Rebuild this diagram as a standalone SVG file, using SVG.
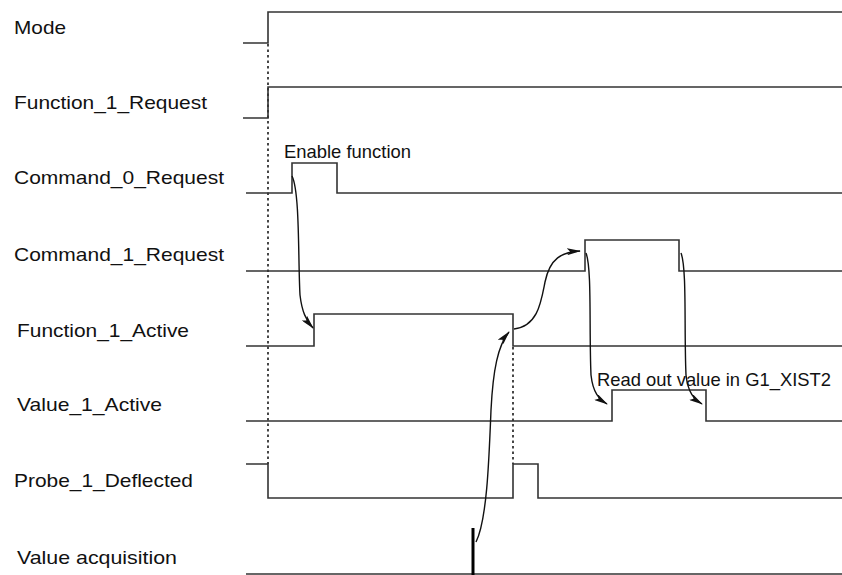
<svg xmlns="http://www.w3.org/2000/svg" width="842" height="575" viewBox="0 0 842 575">
<style>
  .lbl { font-family: "Liberation Sans", Arial, sans-serif; font-size: 19px; fill: #111; }
  .sig { fill: none; stroke: #333; stroke-width: 1.6; }
  .dot { fill: none; stroke: #333; stroke-width: 1.8; stroke-dasharray: 2.5 3; }
  .arr { fill: none; stroke: #111; stroke-width: 1.4; marker-end: url(#ah); }
</style>
<defs>
  <marker id="ah" viewBox="0 0 14 7" refX="13" refY="3.5" markerWidth="14" markerHeight="7" markerUnits="userSpaceOnUse" orient="auto">
    <path d="M0,0 L14,3.5 L0,7 L3,3.5 Z" fill="#111"/>
  </marker>
</defs>
<rect width="842" height="575" fill="#fff"/>

<g id="mode">
  <text class="lbl" x="14" y="34" textLength="52" lengthAdjust="spacingAndGlyphs">Mode</text>
  <path class="sig" d="M243,43 H268 V12 H842"/>
</g>
<g id="function_1_request">
  <text class="lbl" x="14" y="109" textLength="193" lengthAdjust="spacingAndGlyphs">Function_1_Request</text>
  <path class="sig" d="M243,118 H268 V87 H842"/>
</g>
<g id="command_0_request">
  <text class="lbl" x="14" y="184" textLength="210" lengthAdjust="spacingAndGlyphs">Command_0_Request</text>
  <path class="sig" d="M246,193 H292 V163 H337 V193 H842"/>
  <text class="lbl" x="284" y="158" textLength="127" lengthAdjust="spacingAndGlyphs">Enable function</text>
</g>
<g id="command_1_request">
  <text class="lbl" x="14" y="261" textLength="210" lengthAdjust="spacingAndGlyphs">Command_1_Request</text>
  <path class="sig" d="M246,271 H585 V240 H679 V271 H842"/>
</g>
<g id="function_1_active">
  <text class="lbl" x="17" y="337" textLength="172" lengthAdjust="spacingAndGlyphs">Function_1_Active</text>
  <path class="sig" d="M246,346 H314 V314 H513 V346 H842"/>
</g>
<g id="value_1_active">
  <text class="lbl" x="17" y="411" textLength="145" lengthAdjust="spacingAndGlyphs">Value_1_Active</text>
  <path class="sig" d="M246,421 H612 V390 H706 V421 H842"/>
  <text class="lbl" x="597" y="386" textLength="234" lengthAdjust="spacingAndGlyphs">Read out value in G1_XIST2</text>
</g>
<g id="probe_1_deflected">
  <text class="lbl" x="14" y="487" textLength="179" lengthAdjust="spacingAndGlyphs">Probe_1_Deflected</text>
  <path class="sig" d="M246,464 H268 V498 H513 V464 H538 V498 H842"/>
</g>
<g id="value_acquisition">
  <text class="lbl" x="17" y="564" textLength="160" lengthAdjust="spacingAndGlyphs">Value acquisition</text>
  <path class="sig" d="M246,574 H842"/>
  <line x1="473" y1="528" x2="473" y2="575" stroke="#000" stroke-width="3"/>
</g>

<g id="connectors">
  <line class="dot" x1="268" y1="44" x2="268" y2="464"/>
  <line class="dot" x1="513" y1="347" x2="513" y2="464"/>
  <path class="arr" d="M292,176 C300,192 298,260 300,295 C302,312 306,320 313,328"/>
  <path class="arr" d="M514,329 C538,326 541,302 545,282 C550,258 562,252 580,251"/>
  <path class="arr" d="M476,542 C487,520 489,460 491,410 C493,370 498,345 509,332"/>
  <path class="arr" d="M586,253 C592,268 589,330 591,375 C593,393 599,399 607,404"/>
  <path class="arr" d="M681,253 C687,268 684,330 686,375 C688,393 694,399 702,404"/>
</g>
</svg>
